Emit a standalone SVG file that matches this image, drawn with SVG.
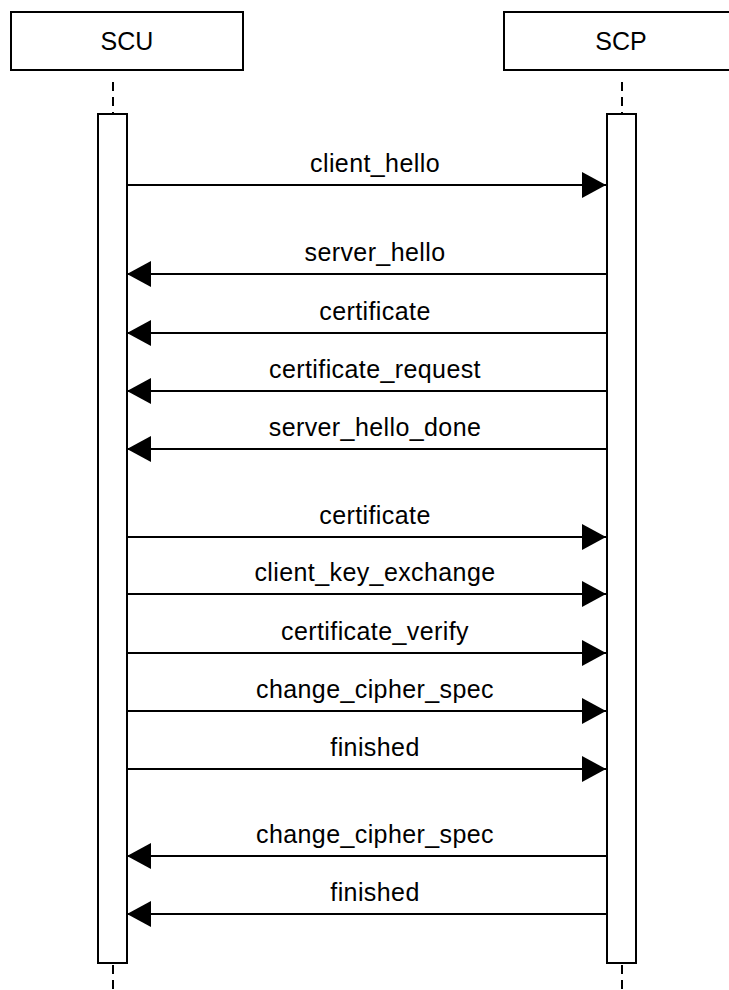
<svg xmlns="http://www.w3.org/2000/svg" width="729" height="990" viewBox="0 0 729 990">
<style>
.box{fill:#fff;stroke:#000;stroke-width:2}
.life{stroke:#000;stroke-width:2;stroke-dasharray:9 6;fill:none}
.msg{stroke:#000;stroke-width:2;fill:none}
.lbl{font-family:"Liberation Sans",Arial,sans-serif;font-size:25px;letter-spacing:0.4px;text-anchor:middle;fill:#000}
.hdr{font-family:"Liberation Sans",Arial,sans-serif;font-size:25px;text-anchor:middle;fill:#000}
</style>
<defs>
<marker id="ah" markerUnits="userSpaceOnUse" markerWidth="24" markerHeight="26" refX="24" refY="13" orient="auto">
<path d="M0,0 L24,13 L0,26 Z" fill="#000"/>
</marker>
</defs>
<rect width="729" height="990" fill="#fff"/>
<g id="SCU">
<rect class="box" x="11" y="12" width="232" height="58"/>
<text class="hdr" x="127" y="50">SCU</text>
<line class="life" x1="113" y1="82" x2="113" y2="113"/>
<line class="life" x1="113" y1="965" x2="113" y2="990"/>
<rect class="box" x="98" y="114" width="29" height="849"/>
</g>
<g id="SCP">
<rect class="box" x="504" y="12" width="232" height="58"/>
<text class="hdr" x="621" y="50">SCP</text>
<line class="life" x1="622" y1="82" x2="622" y2="113"/>
<line class="life" x1="622" y1="965" x2="622" y2="990"/>
<rect class="box" x="607" y="114" width="29" height="849"/>
</g>
<g id="connectors">
<line class="msg" x1="127" y1="185" x2="606" y2="185" marker-end="url(#ah)"/>
<text class="lbl" x="375" y="172">client_hello</text>
<line class="msg" x1="607" y1="274" x2="127" y2="274" marker-end="url(#ah)"/>
<text class="lbl" x="375" y="261">server_hello</text>
<line class="msg" x1="607" y1="333" x2="127" y2="333" marker-end="url(#ah)"/>
<text class="lbl" x="375" y="320">certificate</text>
<line class="msg" x1="607" y1="391" x2="127" y2="391" marker-end="url(#ah)"/>
<text class="lbl" x="375" y="378">certificate_request</text>
<line class="msg" x1="607" y1="449" x2="127" y2="449" marker-end="url(#ah)"/>
<text class="lbl" x="375" y="436">server_hello_done</text>
<line class="msg" x1="127" y1="537" x2="606" y2="537" marker-end="url(#ah)"/>
<text class="lbl" x="375" y="524">certificate</text>
<line class="msg" x1="127" y1="594" x2="606" y2="594" marker-end="url(#ah)"/>
<text class="lbl" x="375" y="581">client_key_exchange</text>
<line class="msg" x1="127" y1="653" x2="606" y2="653" marker-end="url(#ah)"/>
<text class="lbl" x="375" y="640">certificate_verify</text>
<line class="msg" x1="127" y1="711" x2="606" y2="711" marker-end="url(#ah)"/>
<text class="lbl" x="375" y="698">change_cipher_spec</text>
<line class="msg" x1="127" y1="769" x2="606" y2="769" marker-end="url(#ah)"/>
<text class="lbl" x="375" y="756">finished</text>
<line class="msg" x1="607" y1="856" x2="127" y2="856" marker-end="url(#ah)"/>
<text class="lbl" x="375" y="843">change_cipher_spec</text>
<line class="msg" x1="607" y1="914" x2="127" y2="914" marker-end="url(#ah)"/>
<text class="lbl" x="375" y="901">finished</text>
</g>
</svg>
